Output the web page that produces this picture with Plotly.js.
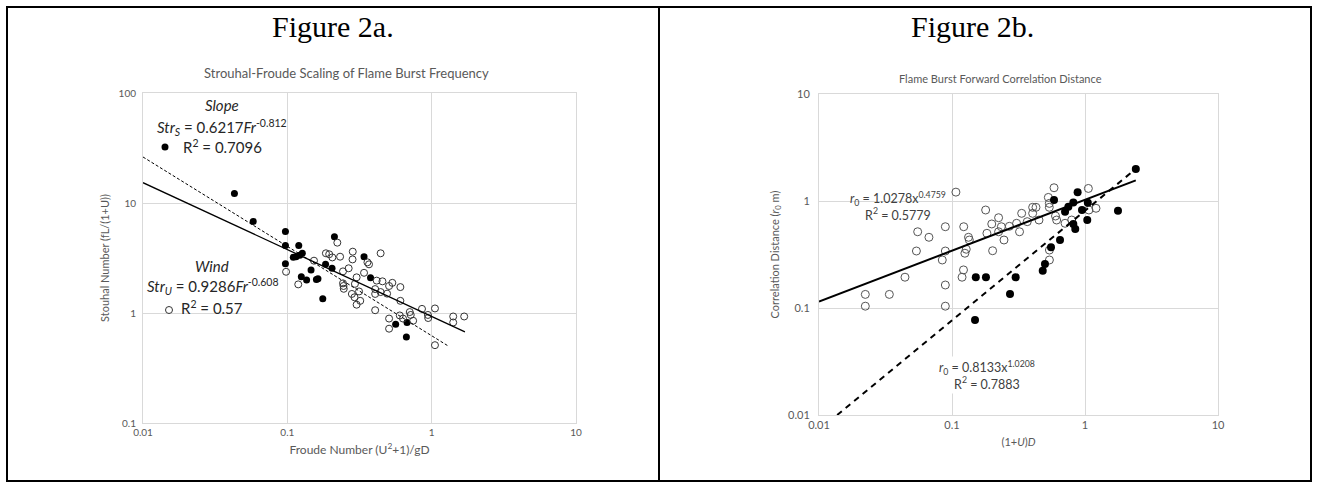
<!DOCTYPE html>
<html><head><meta charset="utf-8">
<script src="https://cdn.plot.ly/plotly-3.0.1.min.js"></script>
<style>html,body{margin:0;padding:0;background:#fff;}#chart{width:1317px;height:484px;}</style>
</head><body><div id="chart"></div>
<script>
// ---------- Figure 2a: Strouhal vs Froude ----------
const slopeFr  = [0.043, 0.058, 0.097, 0.097, 0.097, 0.120, 0.127, 0.110, 0.115, 0.122, 0.146, 0.125, 0.136, 0.159, 0.163, 0.176, 0.184, 0.204, 0.212, 0.340, 0.377, 0.563, 0.675, 0.668];
const slopeStr = [12.2, 6.8, 5.5, 4.1, 2.8, 4.1, 3.5, 3.21, 3.25, 3.35, 2.46, 2.14, 2.0, 2.02, 2.05, 1.35, 2.77, 2.55, 4.94, 3.25, 2.09, 0.79, 0.82, 0.605];
const windFr  = [0.098, 0.119, 0.153, 0.222, 0.185, 0.195, 0.205, 0.232, 0.284, 0.283, 0.443, 0.359, 0.368, 0.243, 0.266, 0.340, 0.302, 0.416, 0.456, 0.534, 0.607, 0.507, 0.243, 0.245, 0.246, 0.294, 0.314, 0.280, 0.292, 0.320, 0.302, 0.406, 0.406, 0.443, 0.491, 0.406, 0.607, 0.705, 0.716, 0.601, 0.633, 0.507, 0.507, 0.744, 0.857, 0.942, 0.946, 1.054, 1.41, 1.41, 1.68, 1.054];
const windStr = [2.37, 1.82, 2.99, 4.36, 3.49, 3.42, 3.2, 3.25, 3.61, 3.07, 3.49, 2.89, 2.77, 2.39, 2.55, 2.32, 2.11, 1.97, 1.94, 1.88, 1.72, 1.76, 1.86, 1.76, 1.66, 1.84, 1.57, 1.49, 1.39, 1.29, 1.19, 1.65, 1.49, 1.55, 1.5, 1.06, 1.29, 1.02, 0.96, 0.95, 0.89, 0.89, 0.72, 0.85, 1.09, 0.96, 0.9, 1.1, 0.93, 0.82, 0.93, 0.51];
// trendline end points
const slopeFitFr  = [0.01, 1.3];
const slopeFitStr = [26.2, 0.502];
const windFitFr   = [0.01, 1.7];
const windFitStr  = [15.3, 0.673];

// ---------- Figure 2b: correlation distance ----------
const openD  = [0.107, 0.0552, 0.0671, 0.0891, 0.1225, 0.054, 0.0891, 0.0845, 0.0443, 0.0223, 0.0338, 0.0223, 0.0891, 0.0891, 0.122, 0.119, 0.133, 0.135, 0.128, 0.125, 0.179, 0.199, 0.224, 0.183, 0.202, 0.235, 0.224, 0.246, 0.27, 0.306, 0.322, 0.334, 0.368, 0.404, 0.428, 0.404, 0.451, 0.53, 0.539, 0.539, 0.585, 0.60, 0.612, 0.708, 0.54, 0.54, 0.794, 1.06, 1.07, 1.21];
const openR0 = [1.21, 0.516, 0.458, 0.575, 0.575, 0.341, 0.341, 0.281, 0.194, 0.134, 0.134, 0.104, 0.164, 0.104, 0.227, 0.194, 0.458, 0.432, 0.354, 0.325, 0.824, 0.61, 0.698, 0.499, 0.343, 0.575, 0.516, 0.432, 0.58, 0.619, 0.516, 0.767, 0.641, 0.873, 0.873, 0.767, 0.664, 1.08, 0.95, 0.873, 1.33, 0.724, 0.664, 0.619, 0.348, 0.281, 0.664, 1.31, 0.824, 0.855];
const fillD  = [0.585, 0.88, 0.817, 0.75, 0.708, 0.949, 1.05, 1.04, 0.817, 0.845, 1.77, 0.649, 0.555, 0.50, 0.481, 0.151, 0.18, 0.301, 0.273, 0.149, 2.41];
const fillR0 = [1.02, 1.21, 0.97, 0.885, 0.794, 0.824, 0.964, 0.664, 0.61, 0.547, 0.812, 0.432, 0.369, 0.258, 0.223, 0.194, 0.194, 0.194, 0.135, 0.0773, 1.99];
const openFitD  = [0.01, 2.41];
const openFitR0 = [0.1148, 1.56];
const fillFitD  = [0.0137, 2.41];
const fillFitR0 = [0.01, 1.996];

const xTickVals = [0.01, 0.1, 1, 10];
const xTickText = ['0.01', '0.1', '1', '10'];
const yTickValsA = [0.1, 1, 10, 100];
const yTickTextA = ['0.1', '1', '10', '100'];
const yTickValsB = [0.01, 0.1, 1, 10];
const yTickTextB = ['0.01', '0.1', '1', '10'];

const W = 1317, H = 484;
const px = v => v / W;
const py = v => 1 - v / H;
const FONT = 'Lato, "Open Sans", sans-serif';
const GREY = '#595959';

const traces = [
  {x: slopeFr, y: slopeStr, xaxis: 'x', yaxis: 'y', mode: 'markers', type: 'scatter',
   marker: {symbol: 'circle', size: 7, color: '#000'}},
  {x: windFr, y: windStr, xaxis: 'x', yaxis: 'y', mode: 'markers', type: 'scatter',
   marker: {symbol: 'circle-open', size: 7, color: '#333', line: {width: 1, color: '#333'}}},
  {x: slopeFitFr, y: slopeFitStr, xaxis: 'x', yaxis: 'y', mode: 'lines', type: 'scatter',
   line: {color: '#000', width: 1, dash: '3px,2px'}},
  {x: windFitFr, y: windFitStr, xaxis: 'x', yaxis: 'y', mode: 'lines', type: 'scatter',
   line: {color: '#000', width: 1.3}},
  {x: openD, y: openR0, xaxis: 'x2', yaxis: 'y2', mode: 'markers', type: 'scatter',
   marker: {symbol: 'circle-open', size: 8, color: '#555', line: {width: 1, color: '#555'}}},
  {x: fillD, y: fillR0, xaxis: 'x2', yaxis: 'y2', mode: 'markers', type: 'scatter',
   marker: {symbol: 'circle', size: 8, color: '#000'}},
  {x: openFitD, y: openFitR0, xaxis: 'x2', yaxis: 'y2', mode: 'lines', type: 'scatter',
   line: {color: '#000', width: 2}},
  {x: fillFitD, y: fillFitR0, xaxis: 'x2', yaxis: 'y2', mode: 'lines', type: 'scatter',
   line: {color: '#000', width: 2, dash: '6px,5px'}}
];

function axis(extra) {
  return Object.assign({
    type: 'log', showgrid: true, gridcolor: '#d9d9d9', gridwidth: 1,
    showline: true, mirror: true, linecolor: '#d9d9d9', linewidth: 1,
    zeroline: false, ticks: '', automargin: false, fixedrange: true,
    tickfont: {family: FONT, size: 10, color: GREY}
  }, extra);
}

function note(text, x, y, size, color, extra) {
  return Object.assign({text: text, x: px(x), y: py(y), xref: 'paper', yref: 'paper',
    xanchor: 'center', yanchor: 'middle', showarrow: false,
    font: {family: FONT, size: size, color: color}}, extra || {});
}

const SERIF = '"Liberation Serif", "Times New Roman", serif';
const EQ = '#262626';

const layout = {
  width: W, height: H, margin: {l: 0, r: 0, t: 0, b: 0},
  paper_bgcolor: '#fff', plot_bgcolor: '#fff', showlegend: false,
  xaxis: axis({range: [-2, 1], domain: [px(143), px(576)], anchor: 'y',
    tickvals: xTickVals, ticktext: xTickText,
    title: {text: 'Froude Number (U<sup>2</sup>+1)/gD', standoff: 8, font: {family: FONT, size: 12, color: GREY}}}),
  yaxis: axis({range: [-1, 2], domain: [1 - 423 / H, 1 - 93 / H], anchor: 'x',
    tickvals: yTickValsA, ticktext: yTickTextA, ticklabelstandoff: 4,
    title: {text: 'Stouhal Number (fL/(1+U))', standoff: 6, font: {family: FONT, size: 11, color: GREY}}}),
  xaxis2: axis({range: [-2, 1], domain: [px(819), px(1218)], anchor: 'y2',
    tickvals: xTickVals, ticktext: xTickText, tickfont: {family: FONT, size: 11, color: GREY},
    title: {text: '(1+<i>U</i>)<i>D</i>', standoff: 8, font: {family: FONT, size: 11, color: GREY}}}),
  yaxis2: axis({range: [-2, 1], domain: [1 - 415 / H, 1 - 94 / H], anchor: 'x2',
    tickvals: yTickValsB, ticktext: yTickTextB, tickfont: {family: FONT, size: 11, color: GREY}, ticklabelstandoff: 6,
    title: {text: 'Correlation Distance (<i>r</i><sub>0</sub> m)', standoff: 6, font: {family: FONT, size: 11, color: GREY}}}),
  shapes: [
    {type: 'rect', xref: 'paper', yref: 'paper', x0: px(7), x1: px(1311), y0: py(481), y1: py(7), line: {color: '#000', width: 2}},
    {type: 'line', xref: 'paper', yref: 'paper', x0: px(659), x1: px(659), y0: py(481), y1: py(7), line: {color: '#000', width: 2}},
    {type: 'circle', xref: 'paper', yref: 'paper', xsizemode: 'pixel', ysizemode: 'pixel',
     xanchor: px(165), yanchor: py(147), x0: -3.5, x1: 3.5, y0: -3.5, y1: 3.5, fillcolor: '#000', line: {color: '#000', width: 0}},
    {type: 'circle', xref: 'paper', yref: 'paper', xsizemode: 'pixel', ysizemode: 'pixel',
     xanchor: px(169), yanchor: py(310), x0: -3.5, x1: 3.5, y0: -3.5, y1: 3.5, fillcolor: '#fff', line: {color: '#333', width: 1}}
  ],
  annotations: [
    note('Figure 2a.', 333, 27, 30, '#000', {font: {family: SERIF, size: 30, color: '#000'}}),
    note('Figure 2b.', 972, 27, 30, '#000', {font: {family: SERIF, size: 30, color: '#000'}}),
    note('Strouhal-Froude Scaling of Flame Burst Frequency', 346, 73, 13, GREY),
    note('Flame Burst Forward Correlation Distance', 1000, 78, 11, GREY),
    note('<i>Slope</i>', 222, 105, 15, EQ),
    note('<i>Str<sub>S</sub></i> = 0.6217<i>Fr</i><sup>-0.812</sup>', 222, 127, 15, EQ),
    note('R<sup>2</sup> = 0.7096', 222, 146, 15, EQ),
    note('<i>Wind</i>', 212, 266, 15, EQ),
    note('<i>Str<sub>U</sub></i> = 0.9286<i>Fr</i><sup>-0.608</sup>', 213, 286, 15, EQ),
    note('R<sup>2</sup> = 0.57', 212, 307, 15, EQ),
    note('<i>r</i><sub>0</sub> = 1.0278x<sup>0.4759</sup><br>R<sup>2</sup> = 0.5779', 898, 206, 12.5, '#404040', {align: 'center'}),
    note('<i>r</i><sub>0</sub> = 0.8133x<sup>1.0208</sup><br>R<sup>2</sup> = 0.7883', 987, 375, 12.5, '#404040', {align: 'center', bgcolor: '#fff'})
  ]
};

Plotly.newPlot('chart', traces, layout, {staticPlot: true, displayModeBar: false});
</script>
</body></html>
